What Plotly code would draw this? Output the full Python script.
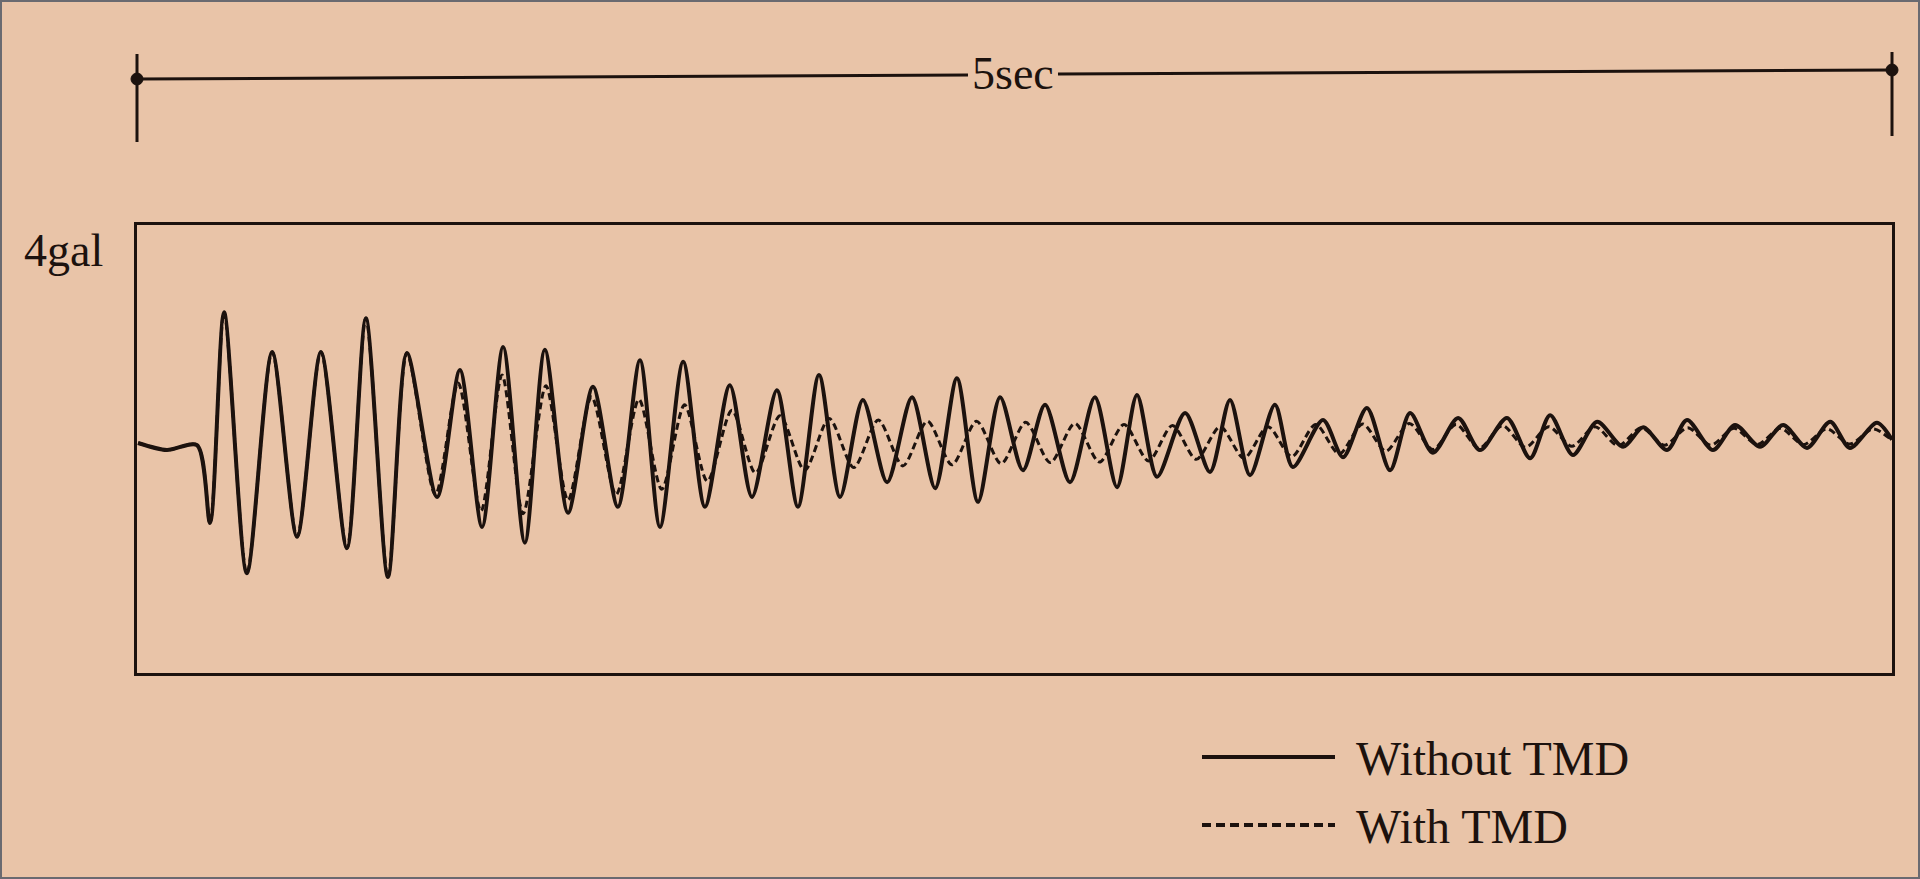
import plotly.graph_objects as go

# ---- data (time in s, acceleration in gal) ----
t_without = [0.003, 0.085, 0.171, 0.208, 0.248, 0.313, 0.385, 0.456, 0.524, 0.598,
             0.652, 0.715, 0.769, 0.855, 0.920, 0.983, 1.043, 1.105, 1.162, 1.228,
             1.299, 1.370, 1.433, 1.490, 1.556, 1.618, 1.689, 1.752, 1.823, 1.883,
             1.943, 2.003, 2.068, 2.137, 2.208, 2.274, 2.336, 2.396, 2.459, 2.524,
             2.587, 2.658, 2.729, 2.792, 2.849, 2.906, 2.986, 3.057, 3.114, 3.171,
             3.242, 3.293, 3.379, 3.436, 3.504, 3.570, 3.627, 3.692, 3.764, 3.826,
             3.903, 3.969, 4.026, 4.091, 4.160, 4.234, 4.291, 4.359, 4.416, 4.490,
             4.553, 4.624, 4.690, 4.758, 4.824, 4.880, 4.957, 5.000]
a_without = [0.00, -0.13, -0.04, -1.47, 2.40, -2.39, 1.67, -1.72, 1.67, -1.93,
             2.29, -2.46, 1.65, -0.99, 1.34, -1.54, 1.76, -1.83, 1.71, -1.28,
             1.03, -1.17, 1.52, -1.54, 1.49, -1.17, 1.06, -0.99, 0.97, -1.17,
             1.25, -0.99, 0.79, -0.72, 0.84, -0.83, 1.19, -1.08, 0.84, -0.50,
             0.70, -0.72, 0.84, -0.81, 0.88, -0.62, 0.55, -0.53, 0.79, -0.59,
             0.70, -0.44, 0.42, -0.26, 0.64, -0.50, 0.55, -0.18, 0.46, -0.13,
             0.46, -0.28, 0.51, -0.22, 0.39, -0.07, 0.29, -0.13, 0.42, -0.13,
             0.33, -0.07, 0.33, -0.09, 0.39, -0.09, 0.37, 0.06]

t_with = [0.003, 0.085, 0.171, 0.208, 0.248, 0.313, 0.385, 0.456, 0.524, 0.598,
          0.652, 0.715, 0.769, 0.850, 0.915, 0.980, 1.040, 1.100, 1.165, 1.228,
          1.295, 1.365, 1.430, 1.495, 1.560, 1.625, 1.695, 1.762, 1.832, 1.902,
          1.972, 2.042, 2.112, 2.182, 2.252, 2.322, 2.392, 2.462, 2.532, 2.602,
          2.672, 2.742, 2.812, 2.882, 2.950, 3.018, 3.086, 3.154, 3.222, 3.290,
          3.358, 3.425, 3.492, 3.558, 3.625, 3.692, 3.758, 3.824, 3.890, 3.956,
          4.022, 4.088, 4.154, 4.220, 4.286, 4.352, 4.418, 4.484, 4.550, 4.616,
          4.682, 4.748, 4.814, 4.880, 4.946, 5.000]
a_with = [0.00, -0.13, -0.04, -1.47, 2.40, -2.39, 1.67, -1.72, 1.67, -1.93,
          2.29, -2.46, 1.65, -0.95, 1.10, -1.25, 1.25, -1.30, 1.05, -1.05,
          0.85, -0.95, 0.80, -0.85, 0.70, -0.70, 0.60, -0.55, 0.50, -0.50,
          0.45, -0.45, 0.42, -0.42, 0.40, -0.40, 0.40, -0.38, 0.38, -0.36,
          0.36, -0.35, 0.34, -0.33, 0.32, -0.30, 0.30, -0.28, 0.30, -0.25,
          0.34, -0.20, 0.35, -0.15, 0.36, -0.12, 0.34, -0.10, 0.32, -0.08,
          0.30, -0.06, 0.30, -0.05, 0.28, -0.04, 0.28, -0.04, 0.27, -0.03,
          0.27, -0.03, 0.26, -0.02, 0.26, 0.05]

series_names = ["Without TMD", "With TMD"]
scale_label = "5sec"
unit_label = "4gal"

# ---- style ----
BG = "rgb(233,196,168)"
INK = "#1c120e"
FONT = "Liberation Serif"
W, H = 1920, 879
L, R, T, B = 137, 1892, 225, 673   # plot box in pixels


def px(x):
    return (x - L) / (R - L)


def py(y):
    return (B - y) / (B - T)


fig = go.Figure()
fig.add_trace(go.Scatter(x=t_with, y=a_with, mode="lines", name=series_names[1],
                         line=dict(color=INK, width=3, dash="7px,4px", shape="spline", smoothing=0.8),
                         showlegend=False))
fig.add_trace(go.Scatter(x=t_without, y=a_without, mode="lines", name=series_names[0],
                         line=dict(color=INK, width=4, shape="spline", smoothing=0.8),
                         showlegend=False))

shapes = []
# outer border of the picture
shapes.append(dict(type="rect", xref="paper", yref="paper", x0=px(1), x1=px(W - 1), y0=py(H - 1), y1=py(1),
                   line=dict(color="#6a6a70", width=2)))
# time scale bar
shapes.append(dict(type="line", xref="paper", yref="paper", x0=px(L), y0=py(79), x1=px(968), y1=py(75),
                   line=dict(color=INK, width=3)))
shapes.append(dict(type="line", xref="paper", yref="paper", x0=px(1058), y0=py(74), x1=px(R), y1=py(70),
                   line=dict(color=INK, width=3)))
shapes.append(dict(type="line", xref="paper", yref="paper", x0=px(L), y0=py(54), x1=px(L), y1=py(142),
                   line=dict(color=INK, width=3)))
shapes.append(dict(type="line", xref="paper", yref="paper", x0=px(R), y0=py(52), x1=px(R), y1=py(136),
                   line=dict(color=INK, width=3)))
for cx, cy in [(L, 79), (R, 70)]:
    shapes.append(dict(type="circle", xref="paper", yref="paper", x0=px(cx - 6), x1=px(cx + 6),
                       y0=py(cy + 6), y1=py(cy - 6), fillcolor=INK, line=dict(color=INK, width=1)))
# legend samples
shapes.append(dict(type="line", xref="paper", yref="paper", x0=px(1202), y0=py(757), x1=px(1335), y1=py(757),
                   line=dict(color=INK, width=4)))
shapes.append(dict(type="line", xref="paper", yref="paper", x0=px(1202), y0=py(825), x1=px(1335), y1=py(825),
                   line=dict(color=INK, width=4, dash="9px,5px")))

annotations = [
    dict(text=scale_label, xref="paper", yref="paper", x=px(1013), y=py(73), xanchor="center", yanchor="middle",
         showarrow=False, font=dict(family=FONT, size=46, color=INK)),
    dict(text=unit_label, xref="paper", yref="paper", x=px(22), y=py(250), xanchor="left", yanchor="middle",
         showarrow=False, font=dict(family=FONT, size=46, color=INK)),
    dict(text=series_names[0], xref="paper", yref="paper", x=px(1354), y=py(758), xanchor="left", yanchor="middle",
         showarrow=False, font=dict(family=FONT, size=48, color=INK)),
    dict(text=series_names[1], xref="paper", yref="paper", x=px(1354), y=py(826), xanchor="left", yanchor="middle",
         showarrow=False, font=dict(family=FONT, size=48, color=INK)),
]

fig.update_layout(
    width=W, height=H,
    margin=dict(l=L, r=W - R, t=T, b=H - B, pad=0),
    paper_bgcolor=BG, plot_bgcolor=BG,
    shapes=shapes, annotations=annotations,
    showlegend=False,
)
fig.update_xaxes(range=[0, 5], showgrid=False, zeroline=False, showticklabels=False, ticks="",
                 showline=True, mirror=True, linecolor=INK, linewidth=3)
fig.update_yaxes(range=[-230 / 54.5, 218 / 54.5], showgrid=False, zeroline=False, showticklabels=False, ticks="",
                 showline=True, mirror=True, linecolor=INK, linewidth=3)

fig.write_html("out.html", config={"displayModeBar": False},
               post_script="document.body.style.margin='0';document.body.style.overflow='hidden';")
